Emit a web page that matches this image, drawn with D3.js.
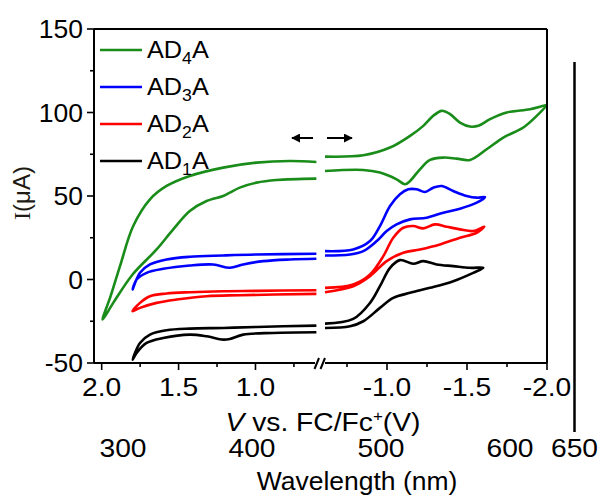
<!DOCTYPE html>
<html><head><meta charset="utf-8">
<script src="https://cdn.jsdelivr.net/npm/d3@7"></script>
<style>
html,body{margin:0;padding:0;background:#fff;}
svg{display:block;font-family:Arial,"Liberation Sans",sans-serif;}
</style></head>
<body><svg id="chart" width="610" height="495"></svg>
<script>
// ---------- data ----------
const seriesNames = ["AD4A","AD3A","AD2A","AD1A"];
const seriesSubs  = ["4","3","2","1"];
const seriesColors = ["#1a8c1a","#0000ff","#ff0000","#000000"];

const yTicks = [150,100,50,0,-50];
const yMinorTicks = [125,75,25,-25];
const xLeftTicks = [2.0,1.5,1.0];
const xLeftMinor = [1.75,1.25,0.75];
const xRightTicks = [-1.0,-1.5,-2.0];
const xRightMinor = [-0.75,-1.25,-1.75];
const wavelengthTicks = [300,400,500,600,650];

// CV loops [V, I(µA)] : left (positive potential) part and right (negative) part
const ad4Left = [[0.604,70.4],[0.777,71],[0.993,70],[1.21,67],[1.427,62],[1.578,56],[1.686,48],[1.795,32],[1.881,8],[1.942,-10],[1.994,-24],
  [1.925,-14],[1.799,3],[1.643,18],[1.535,30],[1.427,41],[1.318,47],[1.21,50],[1.167,52],[1.102,55],[0.993,58],[0.864,59.6],[0.604,60.4]];
const ad4Right = [[-0.6125,73.6],[-0.852,74.4],[-1.019,79],[-1.144,86],[-1.227,92],[-1.289,98],[-1.342,101],[-1.394,99],[-1.456,94],[-1.519,91.6],[-1.571,92],[-1.644,96],[-1.748,100],[-1.894,102],[-1.977,104],[-1.998,104.4],
  [-1.936,98],[-1.852,91],[-1.727,85],[-1.623,78],[-1.519,71.6],[-1.436,72.4],[-1.352,73],[-1.269,71.6],[-1.206,66],[-1.144,59],[-1.1125,57],[-1.06,60],[-0.956,64],[-0.852,65.6],[-0.6125,65]];

const ad3Left = [[0.604,15.4],[0.993,15],[1.21,14.4],[1.427,13.6],[1.578,12],[1.686,9],[1.751,4],[1.799,-6],
  [1.773,0],[1.708,4],[1.6,6.4],[1.427,8.4],[1.275,9],[1.167,7],[1.08,9],[0.95,11],[0.777,12],[0.604,12.4]];
const ad3Right = [[-0.6125,17],[-0.789,18],[-0.894,23],[-0.956,32],[-1.019,44],[-1.081,51],[-1.133,54],[-1.186,54],[-1.2375,52.4],[-1.289,55],[-1.342,56],[-1.414,53],[-1.498,50],[-1.561,49],[-1.6125,49.4],
  [-1.561,46],[-1.456,42.4],[-1.352,40],[-1.248,37],[-1.144,36],[-1.06,33],[-0.998,29],[-0.936,23],[-0.852,17],[-0.769,15],[-0.6125,14.4]];

const ad2Left = [[0.604,-6.4],[0.993,-6.8],[1.21,-7],[1.427,-7.6],[1.578,-8.4],[1.686,-10],[1.751,-14],[1.799,-19],
  [1.751,-17],[1.643,-14],[1.513,-12],[1.318,-10],[1.102,-9.4],[0.604,-8.6]];
const ad2Right = [[-0.6125,-5],[-0.789,-3],[-0.894,3],[-0.977,14],[-1.039,25],[-1.102,31],[-1.164,32],[-1.227,30.6],[-1.3,33],[-1.373,31.6],[-1.456,30],[-1.539,29],[-1.608,31.6],
  [-1.561,28],[-1.456,25],[-1.331,21],[-1.206,18],[-1.102,16],[-0.998,11],[-0.894,2],[-0.789,-4],[-0.6125,-7.6]];

const ad1Left = [[0.604,-27.6],[0.993,-28.4],[1.21,-29],[1.427,-29.4],[1.578,-30.4],[1.686,-33],[1.751,-38],[1.799,-48],
  [1.773,-44],[1.708,-38],[1.6,-35],[1.427,-33],[1.318,-34],[1.21,-36],[1.167,-35.6],[1.08,-33],[0.886,-32],[0.604,-31.6]];
const ad1Right = [[-0.6125,-26.4],[-0.789,-23.6],[-0.894,-14],[-0.956,-4],[-1.019,7],[-1.081,11.6],[-1.164,9.4],[-1.227,11],[-1.31,9],[-1.414,8],[-1.519,7],[-1.602,7],
  [-1.539,4],[-1.414,-1],[-1.269,-5],[-1.144,-8],[-1.039,-11],[-0.956,-17],[-0.852,-25],[-0.769,-28],[-0.6125,-29]];

const leftLoops = [ad4Left, ad3Left, ad2Left, ad1Left];
const rightLoops = [ad4Right, ad3Right, ad2Right, ad1Right];

// ---------- drawing ----------
const svg = d3.select("#chart");
const plotL = 94, plotR = 547, plotT = 29, plotB = 363;
const breakL = 317, breakR = 323;

const y = d3.scaleLinear().domain([-50,150]).range([plotB, plotT]);
const xL = d3.scaleLinear().domain([2.05,0.6]).range([plotL, breakL]);
const xR = d3.scaleLinear().domain([-0.6,-2.0]).range([breakR, plotR]);
const wl = d3.scaleLinear().domain([300,650]).range([123,574.5]);

// text helper with slight horizontal stretch (reference glyphs are wide)
function txt(g, x, yy, anchor, size, sx) {
  return g.append("text").attr("transform", `translate(${x},${yy}) scale(${sx},1)`)
    .attr("text-anchor", anchor).attr("font-size", size);
}

// curves
const lineL = d3.line().x(d=>xL(d[0])).y(d=>y(d[1])).curve(d3.curveCatmullRom.alpha(0.5));
const lineR = d3.line().x(d=>xR(d[0])).y(d=>y(d[1])).curve(d3.curveCatmullRom.alpha(0.5));
const curves = svg.append("g");
for (let i = seriesNames.length-1; i >= 0; i--) {
  curves.append("path").attr("d", lineL(leftLoops[i])).attr("fill","none")
    .attr("stroke", seriesColors[i]).attr("stroke-width",2.6).attr("stroke-linejoin","round");
  curves.append("path").attr("d", lineR(rightLoops[i])).attr("fill","none")
    .attr("stroke", seriesColors[i]).attr("stroke-width",2.6).attr("stroke-linejoin","round");
}

// frame
const frame = svg.append("g").attr("stroke","#000").attr("stroke-width",2).attr("fill","none");
frame.append("line").attr("x1",plotL).attr("x2",plotR).attr("y1",plotT).attr("y2",plotT);
frame.append("line").attr("x1",plotR).attr("x2",plotR).attr("y1",plotT).attr("y2",plotB);
frame.append("line").attr("x1",plotL).attr("x2",plotL).attr("y1",plotT).attr("y2",plotB);
frame.append("line").attr("x1",plotL).attr("x2",315).attr("y1",plotB).attr("y2",plotB);
frame.append("line").attr("x1",325).attr("x2",plotR).attr("y1",plotB).attr("y2",plotB);
frame.append("line").attr("x1",314.5).attr("y1",369).attr("x2",319).attr("y2",358);
frame.append("line").attr("x1",320.5).attr("y1",369).attr("x2",325).attr("y2",358);

// ticks
const tk = svg.append("g").attr("stroke","#000").attr("stroke-width",1.6);
yTicks.forEach(v=>tk.append("line").attr("x1",plotL-7).attr("x2",plotL).attr("y1",y(v)).attr("y2",y(v)));
yMinorTicks.forEach(v=>tk.append("line").attr("x1",plotL-4).attr("x2",plotL).attr("y1",y(v)).attr("y2",y(v)));
xLeftTicks.forEach(v=>tk.append("line").attr("x1",xL(v)).attr("x2",xL(v)).attr("y1",plotB).attr("y2",plotB+7));
xLeftMinor.forEach(v=>tk.append("line").attr("x1",xL(v)).attr("x2",xL(v)).attr("y1",plotB).attr("y2",plotB+4));
xRightTicks.forEach(v=>tk.append("line").attr("x1",xR(v)).attr("x2",xR(v)).attr("y1",plotB).attr("y2",plotB+7));
xRightMinor.forEach(v=>tk.append("line").attr("x1",xR(v)).attr("x2",xR(v)).attr("y1",plotB).attr("y2",plotB+4));

// tick labels
const lab = svg.append("g").attr("fill","#000");
yTicks.forEach(v=>txt(lab, 83, y(v)+9, "end", 25, 1.06).text(v));
const fmt = d3.format(".1f");
xLeftTicks.forEach(v=>txt(lab, xL(v), 396, "middle", 25, 1.13).text(fmt(v)));
xRightTicks.forEach(v=>txt(lab, xR(v), 396, "middle", 25, 1.13).text(fmt(v).replace("−","-")));
wavelengthTicks.forEach(v=>txt(lab, wl(v), 457, "middle", 25, 1.13).text(v));

// axis titles
const xt = txt(svg, 323, 431, "middle", 25, 1.13);
xt.append("tspan").attr("font-style","italic").text("V");
xt.append("tspan").text(" vs. FC/Fc");
xt.append("tspan").attr("font-size",15).attr("dy",-10).text("+");
xt.append("tspan").attr("dy",10).text("(V)");

txt(svg, 357, 490, "middle", 25, 1.06).text("Wavelength (nm)");

const yt = svg.append("text").attr("transform","translate(30,193) rotate(-90)").attr("text-anchor","middle").attr("font-size",24).attr("fill","#1e1a14");
yt.append("tspan").attr("font-family","'Liberation Serif','Times New Roman',serif").text("I");
yt.append("tspan").text("(μA)");

// wavelength marker line
svg.append("line").attr("x1",wl(650)).attr("x2",wl(650)).attr("y1",62).attr("y2",432).attr("stroke","#000").attr("stroke-width",2.5);

// legend
const legY = [50,87,124,161];
seriesNames.forEach((n,i)=>{
  svg.append("line").attr("x1",100).attr("x2",142).attr("y1",legY[i]).attr("y2",legY[i]).attr("stroke",seriesColors[i]).attr("stroke-width",2.6);
  const t = txt(svg, 147, legY[i]+8, "start", 23, 1.1);
  t.append("tspan").text("AD");
  t.append("tspan").attr("font-size",16).attr("dy",6).text(seriesSubs[i]);
  t.append("tspan").attr("dy",-6).text("A");
});

// direction arrows
const defs = svg.append("defs");
defs.append("marker").attr("id","ah").attr("viewBox","0 0 10 10").attr("refX",9).attr("refY",5)
  .attr("markerWidth",4.5).attr("markerHeight",4.5).attr("orient","auto-start-reverse")
  .append("path").attr("d","M0,0 L10,5 L0,10 Z").attr("fill","#000");
svg.append("line").attr("x1",313).attr("x2",292).attr("y1",138).attr("y2",138).attr("stroke","#000").attr("stroke-width",2).attr("marker-end","url(#ah)");
svg.append("line").attr("x1",327).attr("x2",352).attr("y1",138).attr("y2",138).attr("stroke","#000").attr("stroke-width",2).attr("marker-end","url(#ah)");
</script>
</body></html>
